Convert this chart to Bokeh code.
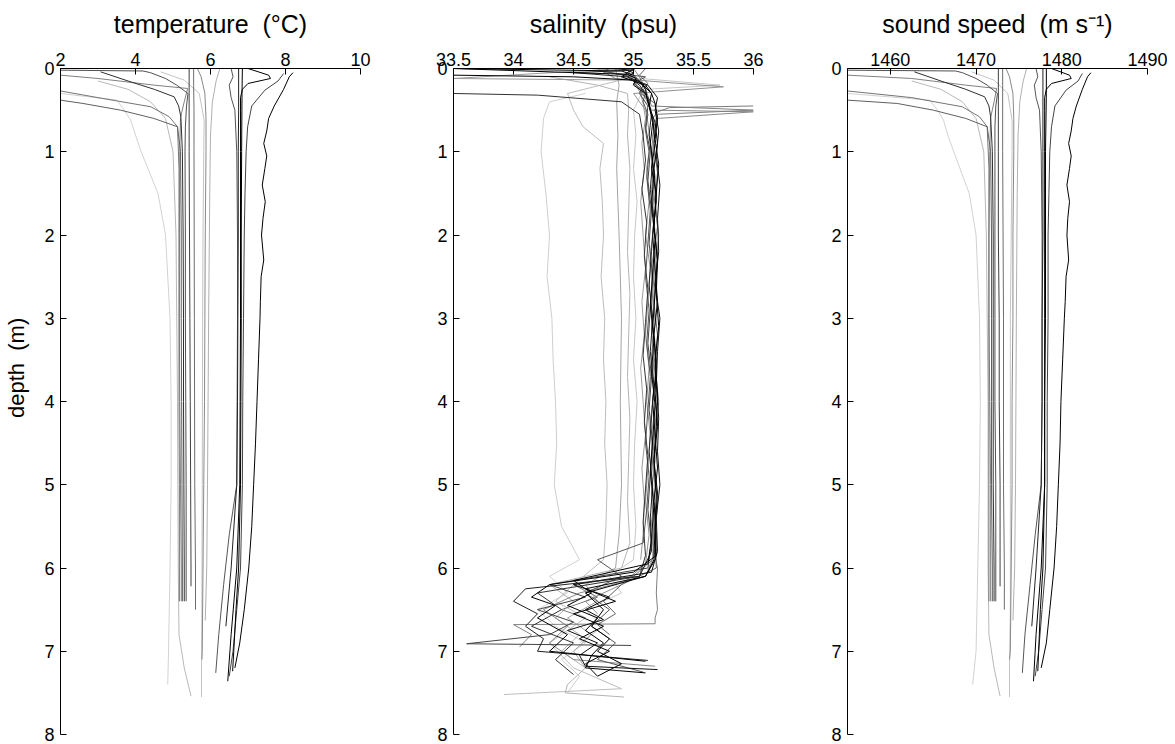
from bokeh.plotting import figure
from bokeh.layouts import row
from bokeh.models import Range1d, FixedTicker, CustomJSTickFormatter
from bokeh.embed import file_html
from bokeh.resources import INLINE

FONT = "Liberation Sans"

DEPTH_TICKS = [0, 1, 2, 3, 4, 5, 6, 7, 8]
TEMP_TICKS = [2, 4, 6, 8, 10]
SAL_TICKS = [33.5, 34, 34.5, 35, 35.5, 36]
SS_TICKS = [1460, 1470, 1480, 1490]

TEMP_TITLE = "temperature \u00a0(°C)"
SAL_TITLE = "salinity \u00a0(psu)"
SS_TITLE = "sound speed \u00a0(m s⁻¹)"
DEPTH_TITLE = "depth \u00a0(m)"

# ---- temperature (T, °C) and sound speed (c, m/s) profiles, sharing depth z (m)
t01_z = [0.05, 0.1, 0.25, 0.45, 0.6, 0.75, 0.9, 1.05, 1.2, 1.4, 1.6, 1.8, 2.0, 2.3, 2.5, 2.8, 3.0, 3.5, 4.0, 4.5, 5.0, 5.5, 6.0, 6.5, 6.9, 7.2]
t01_T = [8.2, 8.1, 7.95, 7.7, 7.55, 7.5, 7.42, 7.5, 7.45, 7.38, 7.46, 7.4, 7.36, 7.42, 7.35, 7.33, 7.32, 7.28, 7.24, 7.2, 7.15, 7.1, 7.02, 6.9, 6.78, 6.65]
t01_c = [1483.4, 1483.0, 1482.4, 1481.7, 1481.3, 1481.1, 1480.8, 1481.1, 1480.9, 1480.6, 1480.9, 1480.7, 1480.6, 1480.8, 1480.5, 1480.4, 1480.3, 1480.1, 1479.9, 1479.8, 1479.6, 1479.4, 1479.1, 1478.6, 1478.2, 1477.6]

t02_z = [0.06, 0.15, 0.26, 0.45, 0.7, 1.0, 1.5, 2.0, 3.0, 4.0, 5.0, 6.0, 6.5, 7.0, 7.3]
t02_T = [7.95, 7.8, 7.45, 7.1, 6.99, 6.95, 6.92, 6.9, 6.88, 6.86, 6.85, 6.8, 6.7, 6.6, 6.5]
t02_c = [1482.4, 1481.9, 1480.5, 1479.2, 1478.8, 1478.6, 1478.5, 1478.4, 1478.4, 1478.3, 1478.3, 1478.1, 1477.7, 1477.3, 1476.9]

t03_z = [0.0, 0.08, 0.12, 0.18, 0.25, 0.35, 0.5, 1.0, 2.0, 3.0, 4.0, 5.0, 6.0, 6.8, 7.36]
t03_T = [7.0, 7.55, 7.6, 7.0, 6.85, 6.8, 6.8, 6.8, 6.8, 6.8, 6.79, 6.78, 6.7, 6.55, 6.46]
t03_c = [1478.8, 1480.9, 1481.1, 1478.8, 1478.2, 1478.0, 1478.0, 1478.0, 1478.0, 1478.0, 1478.0, 1478.0, 1477.6, 1477.0, 1476.7]

t04_z = [0.0, 0.3, 1.0, 2.0, 3.0, 4.0, 5.0, 6.0, 6.5, 7.0, 7.24]
t04_T = [6.85, 6.84, 6.83, 6.82, 6.82, 6.81, 6.8, 6.75, 6.68, 6.62, 6.59]
t04_c = [1478.2, 1478.2, 1478.1, 1478.1, 1478.1, 1478.0, 1478.0, 1477.8, 1477.5, 1477.3, 1477.2]

t05_z = [0.0, 0.1, 0.2, 0.35, 0.5, 1.0, 2.0, 3.0, 4.0, 5.0, 5.6, 6.2, 6.8, 7.26]
t05_T = [6.55, 6.6, 6.5, 6.55, 6.65, 6.7, 6.72, 6.72, 6.71, 6.7, 6.5, 6.35, 6.22, 6.14]
t05_c = [1477.0, 1477.2, 1476.8, 1477.0, 1477.4, 1477.6, 1477.7, 1477.7, 1477.7, 1477.6, 1476.9, 1476.3, 1475.7, 1475.4]

t06_z = [0.0, 0.5, 1.0, 2.0, 3.0, 4.0, 5.0, 6.0, 6.7]
t06_T = [6.75, 6.75, 6.74, 6.74, 6.73, 6.72, 6.7, 6.55, 6.41]
t06_c = [1477.8, 1477.8, 1477.8, 1477.8, 1477.7, 1477.7, 1477.6, 1477.0, 1476.5]

t07_z = [0.0, 0.15, 0.4, 0.8, 1.5, 3.0, 5.0, 6.0, 6.63]
t07_T = [6.25, 6.15, 6.05, 6.0, 5.98, 5.95, 5.92, 5.9, 5.86]
t07_c = [1475.9, 1475.5, 1475.1, 1474.9, 1474.8, 1474.7, 1474.6, 1474.5, 1474.3]

t08_z = [0.0, 0.1, 0.3, 0.6, 1.0, 2.0, 3.0, 4.0, 5.0, 6.0, 7.0, 7.1]
t08_T = [5.65, 5.75, 5.85, 5.88, 5.88, 5.86, 5.85, 5.84, 5.82, 5.8, 5.78, 5.77]
t08_c = [1473.5, 1473.9, 1474.3, 1474.4, 1474.4, 1474.3, 1474.3, 1474.2, 1474.2, 1474.1, 1474.0, 1473.9]

t09_z = [0.0, 1.0, 2.0, 3.0, 4.0, 5.0, 6.0, 6.22]
t09_T = [5.43, 5.43, 5.44, 5.45, 5.46, 5.47, 5.48, 5.48]
t09_c = [1472.6, 1472.6, 1472.6, 1472.7, 1472.7, 1472.8, 1472.8, 1472.8]

t10_z = [0.04, 0.14, 0.3, 0.62, 1.0, 2.0, 3.0, 5.0, 6.5, 7.2, 7.55]
t10_T = [4.67, 5.3, 5.7, 5.83, 5.82, 5.8, 5.79, 5.78, 5.77, 5.76, 5.76]
t10_c = [1469.5, 1472.1, 1473.7, 1474.2, 1474.2, 1474.1, 1474.0, 1474.0, 1474.0, 1473.9, 1473.9]

t11_z = [0.08, 0.12, 0.2, 0.24, 0.4, 0.59, 1.0, 2.0, 3.0, 4.0, 5.0, 6.0, 6.4]
t11_T = [2.0, 3.0, 4.5, 5.39, 5.3, 5.2, 5.18, 5.17, 5.17, 5.18, 5.2, 5.22, 5.22]
t11_c = [1455.0, 1462.5, 1468.8, 1472.4, 1472.1, 1471.7, 1471.6, 1471.5, 1471.5, 1471.6, 1471.7, 1471.7, 1471.7]

t12_z = [0.04, 0.15, 0.25, 0.34, 0.45, 0.58, 1.0, 2.0, 3.0, 4.0, 5.0, 6.0, 6.4]
t12_T = [3.07, 3.8, 4.5, 5.03, 5.15, 5.21, 5.25, 5.27, 5.28, 5.28, 5.29, 5.3, 5.3]
t12_c = [1462.8, 1465.9, 1468.8, 1471.0, 1471.5, 1471.7, 1471.9, 1472.0, 1472.0, 1472.0, 1472.0, 1472.1, 1472.1]

t13_z = [0.02, 0.03, 0.05, 0.12, 0.2, 0.3, 0.45, 0.7, 1.0, 2.0, 3.0, 4.0, 5.0, 6.0, 6.4]
t13_T = [2.0, 4.2, 4.4, 4.8, 5.1, 5.4, 5.36, 5.33, 5.32, 5.33, 5.33, 5.34, 5.35, 5.35, 5.35]
t13_c = [1455.0, 1467.6, 1468.4, 1470.0, 1471.3, 1472.5, 1472.3, 1472.2, 1472.2, 1472.2, 1472.2, 1472.2, 1472.3, 1472.3, 1472.3]

t14_z = [0.27, 0.35, 0.46, 0.58, 0.7, 1.2, 2.0, 3.0, 4.0, 5.0, 6.0, 6.4]
t14_T = [2.0, 3.0, 4.41, 4.9, 5.12, 5.16, 5.16, 5.16, 5.16, 5.17, 5.17, 5.17]
t14_c = [1455.0, 1462.5, 1468.4, 1470.4, 1471.3, 1471.5, 1471.5, 1471.5, 1471.5, 1471.5, 1471.5, 1471.5]

t15_z = [0.38, 0.42, 0.5, 0.6, 0.7, 1.0, 2.0, 3.0, 4.0, 5.0, 6.0, 6.4]
t15_T = [2.0, 2.6, 3.6, 4.49, 5.12, 5.2, 5.22, 5.22, 5.23, 5.24, 5.25, 5.25]
t15_c = [1455.0, 1460.8, 1465.0, 1468.8, 1471.3, 1471.7, 1471.8, 1471.8, 1471.8, 1471.8, 1471.9, 1471.9]

t16_z = [0.3, 0.38, 0.5, 0.62, 0.8, 1.0, 1.5, 2.0, 3.0, 4.0, 5.0, 6.0, 7.0, 7.4]
t16_T = [2.0, 3.5, 3.7, 3.87, 4.0, 4.15, 4.6, 4.8, 4.92, 4.95, 4.95, 4.92, 4.88, 4.86]
t16_c = [1455.0, 1464.6, 1465.5, 1466.2, 1466.7, 1467.4, 1469.2, 1470.0, 1470.4, 1470.5, 1470.4, 1470.2, 1470.0, 1469.6]

t17_z = [0.15, 0.25, 0.4, 0.6, 1.0, 2.0, 3.0, 4.0, 5.0, 6.0, 6.8, 7.2, 7.54]
t17_T = [3.0, 3.8, 4.4, 4.8, 5.0, 5.08, 5.1, 5.12, 5.13, 5.14, 5.16, 5.3, 5.48]
t17_c = [1462.5, 1465.9, 1468.4, 1470.0, 1470.9, 1471.2, 1471.3, 1471.4, 1471.4, 1471.4, 1471.5, 1472.1, 1472.8]

t18_z = [0.0, 0.2, 0.5, 1.0, 3.0, 5.0, 6.0, 6.5]
t18_T = [5.55, 5.55, 5.56, 5.56, 5.57, 5.58, 5.6, 5.6]
t18_c = [1473.1, 1473.1, 1473.1, 1473.1, 1473.2, 1473.2, 1473.3, 1473.3]

# ---- salinity (psu) profiles
s01_z = [0.3, 0.4, 0.6, 1.0, 1.5, 2.0, 2.5, 3.0, 3.5, 4.0, 4.5, 5.0, 5.5, 5.9, 6.1, 6.3, 6.5, 6.7, 6.9, 7.1, 7.3, 7.5]
s01_S = [34.6, 34.3, 34.25, 34.23, 34.27, 34.3, 34.28, 34.32, 34.33, 34.35, 34.36, 34.34, 34.4, 34.55, 34.3, 34.45, 34.2, 34.35, 34.6, 34.4, 34.55, 34.45]

s02_z = [0.1, 0.3, 0.5, 0.7, 0.9, 1.2, 1.6, 2.0, 2.5, 3.0, 3.5, 4.0, 4.5, 5.0, 5.5, 5.9, 6.2, 6.4, 6.6, 6.9, 7.2, 7.45, 7.52]
s02_S = [35.0, 34.45, 34.5, 34.58, 34.75, 34.72, 34.74, 34.75, 34.73, 34.76, 34.75, 34.77, 34.76, 34.78, 34.77, 34.75, 34.5, 34.35, 34.6, 34.3, 34.5, 34.9, 33.92]

s03_z = [0.0, 0.2, 0.4, 0.8, 1.2, 2.0, 3.0, 4.0, 5.0, 5.6, 6.0, 6.2, 6.4, 6.6, 6.8, 7.0, 7.2]
s03_S = [34.85, 34.88, 34.86, 34.87, 34.86, 34.88, 34.9, 34.89, 34.9, 34.88, 34.85, 34.6, 34.7, 34.45, 34.65, 34.5, 34.6]

s04_z = [0.0, 0.1, 0.2, 0.25, 0.35, 0.5, 0.8, 1.2, 1.6, 2.0, 2.5, 3.0, 3.5, 4.0, 4.5, 5.0, 5.5, 5.9, 6.1, 6.3, 6.5, 6.7, 6.9]
s04_S = [35.0, 34.9, 35.72, 35.1, 35.05, 35.0, 35.02, 35.0, 35.03, 35.01, 35.0, 35.02, 35.0, 35.03, 35.01, 35.0, 35.02, 35.0, 34.8, 34.9, 34.6, 34.75, 34.55]

s05_z = [0.1, 0.2, 0.3, 0.5, 0.8, 1.2, 1.7, 2.2, 2.7, 3.2, 3.7, 4.2, 4.7, 5.2, 5.7, 6.0, 6.2, 6.4, 6.6, 6.8, 7.0, 7.2, 7.4, 7.5, 7.55]
s05_S = [34.3, 34.7, 34.95, 34.96, 34.95, 34.97, 34.96, 34.95, 34.97, 34.96, 34.95, 34.97, 34.96, 34.95, 34.97, 34.9, 34.3, 34.5, 34.35, 34.55, 34.4, 34.6, 34.45, 34.43, 34.92]

s06_z = [0.0, 0.12, 0.22, 0.3, 0.5, 0.65, 0.9, 1.2, 1.6, 2.0, 2.4, 2.8, 3.2, 3.6, 4.0, 4.4, 4.8, 5.2, 5.6, 5.95, 6.2, 6.4, 6.55]
s06_S = [34.7, 34.85, 35.75, 35.0, 35.1, 35.12, 35.14, 35.11, 35.13, 35.1, 35.14, 35.12, 35.1, 35.13, 35.11, 35.14, 35.12, 35.1, 35.13, 35.1, 34.9, 34.6, 34.7]

s07_z = [0.0, 0.12, 0.14, 0.2, 0.3, 0.42, 0.6, 0.9, 1.2, 1.6, 2.0, 2.4, 2.8, 3.2, 3.6, 4.0, 4.4, 4.8, 5.2, 5.6, 5.9]
s07_S = [34.9, 33.5, 35.0, 35.02, 35.06, 35.08, 35.1, 35.07, 35.09, 35.06, 35.08, 35.1, 35.07, 35.09, 35.06, 35.08, 35.1, 35.07, 35.09, 35.08, 35.06]

s08_z = [0.45, 0.47, 0.52, 0.6, 0.8, 1.1, 1.5, 1.9, 2.3, 2.7, 3.1, 3.5, 3.9, 4.3, 4.7, 5.1, 5.5, 5.9, 6.1, 6.2, 6.35, 6.5, 6.6]
s08_S = [36.0, 35.3, 35.2, 35.16, 35.18, 35.15, 35.17, 35.2, 35.16, 35.18, 35.15, 35.17, 35.19, 35.16, 35.18, 35.15, 35.17, 35.16, 35.0, 34.5, 34.7, 34.4, 34.6]

s09_z = [0.0, 0.1, 0.25, 0.45, 0.5, 0.55, 0.7, 1.0, 1.3, 1.7, 2.1, 2.5, 2.9, 3.3, 3.7, 4.1, 4.5, 4.9, 5.3, 5.7, 6.0, 6.3, 6.5, 6.6, 6.67, 6.68, 6.8, 6.95]
s09_S = [35.0, 35.05, 35.1, 35.15, 36.0, 35.2, 35.17, 35.15, 35.18, 35.16, 35.19, 35.17, 35.15, 35.18, 35.16, 35.19, 35.17, 35.15, 35.18, 35.16, 35.2, 35.19, 35.2, 35.18, 35.18, 34.0, 34.15, 34.05]

s10_z = [0.0, 0.15, 0.3, 0.5, 0.52, 0.6, 0.8, 1.1, 1.45, 1.85, 2.25, 2.65, 3.05, 3.45, 3.85, 4.25, 4.65, 5.05, 5.45, 5.85, 6.1, 6.3, 6.5, 6.7, 6.9, 7.1, 7.18]
s10_S = [34.95, 35.0, 35.08, 35.15, 36.0, 35.2, 35.16, 35.18, 35.15, 35.17, 35.14, 35.16, 35.18, 35.15, 35.17, 35.14, 35.16, 35.18, 35.15, 35.17, 35.1, 34.55, 34.25, 34.45, 34.3, 34.5, 35.18]

s11_z = [0.0, 0.08, 0.18, 0.3, 0.42, 0.6, 0.9, 1.25, 1.6, 2.0, 2.4, 2.8, 3.2, 3.6, 4.0, 4.4, 4.8, 5.2, 5.6, 6.0, 6.2, 6.4, 6.55, 6.68, 6.8]
s11_S = [35.1, 35.05, 35.12, 35.06, 35.18, 35.2, 35.17, 35.2, 35.18, 35.21, 35.19, 35.17, 35.2, 35.18, 35.21, 35.19, 35.17, 35.2, 35.18, 35.19, 34.9, 34.75, 34.85, 34.7, 34.8]

s12_z = [0.3, 0.32, 0.4, 0.55, 0.8, 1.1, 1.45, 1.85, 2.25, 2.65, 3.05, 3.45, 3.85, 4.25, 4.65, 5.05, 5.45, 5.85, 6.1, 6.3, 6.5, 6.7, 6.9, 7.1, 7.28]
s12_S = [33.5, 34.2, 34.9, 35.05, 35.08, 35.1, 35.07, 35.11, 35.09, 35.12, 35.1, 35.08, 35.11, 35.09, 35.12, 35.1, 35.08, 35.1, 35.05, 34.2, 34.4, 34.15, 34.5, 34.35, 34.5]

s13_z = [0.05, 0.1, 0.2, 0.3, 0.45, 0.7, 1.0, 1.35, 1.7, 2.1, 2.5, 2.9, 3.3, 3.7, 4.1, 4.5, 4.9, 5.3, 5.7, 6.0, 6.2, 6.35, 6.5, 6.65, 6.8, 6.91, 6.93]
s13_S = [34.8, 35.0, 35.08, 35.05, 35.12, 35.1, 35.14, 35.12, 35.15, 35.13, 35.16, 35.14, 35.12, 35.15, 35.13, 35.16, 35.14, 35.12, 35.15, 35.12, 34.3, 34.6, 34.2, 34.5, 34.3, 33.61, 34.98]

s14_z = [0.0, 0.04, 0.1, 0.18, 0.28, 0.4, 0.55, 0.75, 1.0, 1.3, 1.7, 2.1, 2.5, 2.9, 3.3, 3.7, 4.1, 4.5, 4.9, 5.3, 5.7, 5.9, 6.1, 6.3, 6.5, 6.7, 6.9, 7.1, 7.25]
s14_S = [34.8, 34.75, 35.1, 35.0, 35.1, 35.08, 35.12, 35.1, 35.13, 35.11, 35.14, 35.12, 35.1, 35.13, 35.11, 35.14, 35.12, 35.1, 35.13, 35.11, 35.08, 34.7, 34.9, 34.6, 34.8, 34.65, 34.85, 34.7, 35.08]

s15_z = [0.0, 0.03, 0.08, 0.15, 0.25, 0.4, 0.6, 0.9, 1.2, 1.5, 1.9, 2.3, 2.7, 3.1, 3.5, 3.9, 4.3, 4.7, 5.1, 5.5, 5.9, 6.1, 6.25, 6.4, 6.55, 6.7, 6.85, 7.0, 7.15, 7.3]
s15_S = [33.5, 34.9, 35.0, 35.05, 35.1, 35.12, 35.16, 35.18, 35.15, 35.19, 35.17, 35.2, 35.18, 35.16, 35.19, 35.18, 35.2, 35.17, 35.19, 35.18, 35.17, 35.1, 34.6, 34.85, 34.5, 34.75, 34.55, 34.8, 34.6, 34.7]

s16_z = [0.0, 0.05, 0.1, 0.2, 0.35, 0.5, 0.75, 1.05, 1.4, 1.8, 2.2, 2.6, 3.0, 3.4, 3.8, 4.2, 4.6, 5.0, 5.4, 5.8, 6.05, 6.2, 6.35, 6.5, 6.62, 6.75, 6.9, 7.05, 7.18, 7.22]
s16_S = [34.9, 35.0, 34.95, 35.12, 35.2, 35.18, 35.21, 35.19, 35.22, 35.2, 35.21, 35.18, 35.22, 35.2, 35.19, 35.21, 35.2, 35.22, 35.19, 35.2, 35.15, 34.5, 34.8, 34.6, 34.75, 34.45, 34.7, 34.55, 34.6, 35.2]

s17_z = [0.08, 0.1, 0.14, 0.2, 0.3, 0.42, 0.6, 0.85, 1.15, 1.5, 1.9, 2.3, 2.7, 3.1, 3.5, 3.9, 4.3, 4.7, 5.1, 5.5, 5.85, 6.05, 6.2, 6.35, 6.45, 6.6, 6.8, 7.0, 7.12]
s17_S = [33.5, 34.5, 35.0, 35.08, 35.15, 35.18, 35.2, 35.18, 35.21, 35.19, 35.17, 35.2, 35.19, 35.21, 35.18, 35.2, 35.19, 35.17, 35.2, 35.18, 35.19, 35.0, 34.3, 34.15, 34.35, 34.2, 34.45, 34.3, 35.1]

s18_z = [0.0, 0.05, 0.07, 0.12, 0.2, 0.3, 0.45, 0.65, 0.9, 1.25, 1.65, 2.05, 2.45, 2.85, 3.25, 3.65, 4.05, 4.45, 4.85, 5.25, 5.65, 5.95, 6.15, 6.3, 6.45, 6.6, 6.75, 6.9, 7.05, 7.2, 7.26]
s18_S = [33.5, 34.5, 34.95, 35.02, 35.0, 35.1, 35.13, 35.16, 35.14, 35.17, 35.15, 35.18, 35.16, 35.14, 35.17, 35.15, 35.18, 35.16, 35.14, 35.17, 35.15, 35.12, 34.5, 34.65, 34.45, 34.7, 34.6, 34.75, 34.65, 34.6, 35.1]

s19_z = [0.0, 0.02, 0.05, 0.1, 0.2, 0.35, 0.55, 0.8, 1.1, 1.45, 1.8, 2.2, 2.6, 3.0, 3.4, 3.8, 4.2, 4.6, 5.0, 5.4, 5.8, 6.1, 6.25, 6.4, 6.55, 6.7, 6.85, 7.0, 7.11]
s19_S = [34.8, 35.0, 34.5, 34.95, 35.05, 35.12, 35.15, 35.13, 35.16, 35.14, 35.17, 35.15, 35.13, 35.16, 35.14, 35.17, 35.15, 35.13, 35.16, 35.14, 35.15, 35.05, 34.1, 34.0, 34.2, 34.1, 34.25, 34.2, 35.12]

s20_z = [0.0, 0.1, 0.2, 0.3, 0.45, 0.65, 0.9, 1.2, 1.6, 2.0, 2.4, 2.8, 3.2, 3.6, 4.0, 4.4, 4.8, 5.2, 5.6, 5.9, 6.1, 6.3, 6.5, 6.7, 6.85, 7.0, 7.15, 7.3]
s20_S = [35.0, 34.9, 35.1, 35.15, 35.13, 35.18, 35.2, 35.17, 35.19, 35.16, 35.18, 35.2, 35.17, 35.19, 35.16, 35.18, 35.2, 35.17, 35.19, 35.18, 35.1, 34.6, 34.75, 34.65, 34.8, 34.7, 34.9, 34.7]

# drawing order: light first, dark last
TEMP_SET = [
    (t16_z, t16_T, t16_c), (t10_z, t10_T, t10_c), (t17_z, t17_T, t17_c), (t07_z, t07_T, t07_c),
    (t08_z, t08_T, t08_c), (t11_z, t11_T, t11_c), (t14_z, t14_T, t14_c), (t18_z, t18_T, t18_c),
    (t15_z, t15_T, t15_c), (t05_z, t05_T, t05_c), (t13_z, t13_T, t13_c), (t02_z, t02_T, t02_c),
    (t09_z, t09_T, t09_c), (t12_z, t12_T, t12_c), (t06_z, t06_T, t06_c), (t01_z, t01_T, t01_c),
    (t03_z, t03_T, t03_c), (t04_z, t04_T, t04_c),
]
TEMP_COLORS = ["#d2d2d2", "#c4c4c4", "#b8b8b8", "#b0b0b0", "#8a8a8a", "#808080", "#747474", "#6e6e6e",
               "#606060", "#555555", "#505050", "#444444", "#404040", "#303030", "#222222", "#000000",
               "#000000", "#000000"]

SAL_SET = [(s01_z, s01_S), (s02_z, s02_S), (s05_z, s05_S), (s04_z, s04_S), (s03_z, s03_S),
           (s07_z, s07_S), (s06_z, s06_S), (s10_z, s10_S), (s08_z, s08_S), (s09_z, s09_S),
           (s11_z, s11_S), (s14_z, s14_S), (s13_z, s13_S), (s12_z, s12_S), (s20_z, s20_S),
           (s16_z, s16_S), (s19_z, s19_S), (s18_z, s18_S), (s17_z, s17_S), (s15_z, s15_S)]
SAL_COLORS = ["#cfcfcf", "#bdbdbd", "#b4b4b4", "#c8c8c8", "#a4a4a4",
              "#9a9a9a", "#929292", "#888888", "#7a7a7a", "#808080",
              "#646464", "#555555", "#444444", "#333333", "#000000",
              "#111111", "#202020", "#000000", "#000000", "#000000"]


def trim(xs, zs):
    n = min(len(xs), len(zs))
    return list(xs[:n]), list(zs[:n])


def make_fig(xr, ticks, title, xs_list, zs_list, colors, left, right, ylabel=None):
    p = figure(width=left + 300 + right, height=744,
               x_range=Range1d(*xr), y_range=Range1d(8, 0),
               x_axis_location="above", output_backend="svg", toolbar_location=None,
               min_border_left=left, min_border_right=right,
               min_border_top=68, min_border_bottom=10)
    p.outline_line_color = None
    p.xgrid.visible = False
    p.ygrid.visible = False
    p.background_fill_color = "white"
    p.border_fill_color = "white"
    fmt = CustomJSTickFormatter(code="return String(tick);")
    xa = p.xaxis[0]
    xa.ticker = FixedTicker(ticks=ticks)
    xa.formatter = fmt
    ya = p.yaxis[0]
    ya.ticker = FixedTicker(ticks=DEPTH_TICKS)
    ya.formatter = fmt
    for ax in (xa, ya):
        ax.major_tick_in = 6
        ax.major_tick_out = 0
        ax.minor_tick_line_color = None
        ax.axis_line_color = "black"
        ax.major_tick_line_color = "black"
        ax.major_label_text_font = FONT
        ax.major_label_text_font_size = "18px"
        ax.major_label_text_color = "black"
        ax.axis_label_text_font = FONT
        ax.axis_label_text_font_style = "normal"
        ax.axis_label_text_color = "black"
    xa.major_label_standoff = 3
    xa.axis_label = title
    xa.axis_label_text_font_size = "25px"
    xa.axis_label_standoff = 12
    ya.major_label_standoff = 6
    if ylabel:
        # leading no-break spaces lift the label so it sits a little above mid-height, as in the reference
        ya.axis_label = "\u00a0" * 11 + ylabel
        ya.axis_label_text_font_size = "22px"
        ya.axis_label_standoff = 12
    xs2, zs2 = [], []
    for xv, zv in zip(xs_list, zs_list):
        a, b = trim(xv, zv)
        xs2.append(a)
        zs2.append(b)
    p.multi_line(xs=xs2, ys=zs2, line_color=colors, line_width=1)
    return p


p1 = make_fig((2, 10), TEMP_TICKS, TEMP_TITLE,
              [s[1] for s in TEMP_SET], [s[0] for s in TEMP_SET], TEMP_COLORS, 60, 20, DEPTH_TITLE)
p2 = make_fig((33.5, 36), SAL_TICKS, SAL_TITLE,
              [s[1] for s in SAL_SET], [s[0] for s in SAL_SET], SAL_COLORS, 73, 20)
p3 = make_fig((1455, 1490), SS_TICKS, SS_TITLE,
              [s[2] for s in TEMP_SET], [s[0] for s in TEMP_SET], TEMP_COLORS, 74, 20)

layout = row(p1, p2, p3)
open("out.html", "w").write(file_html(layout, INLINE))
